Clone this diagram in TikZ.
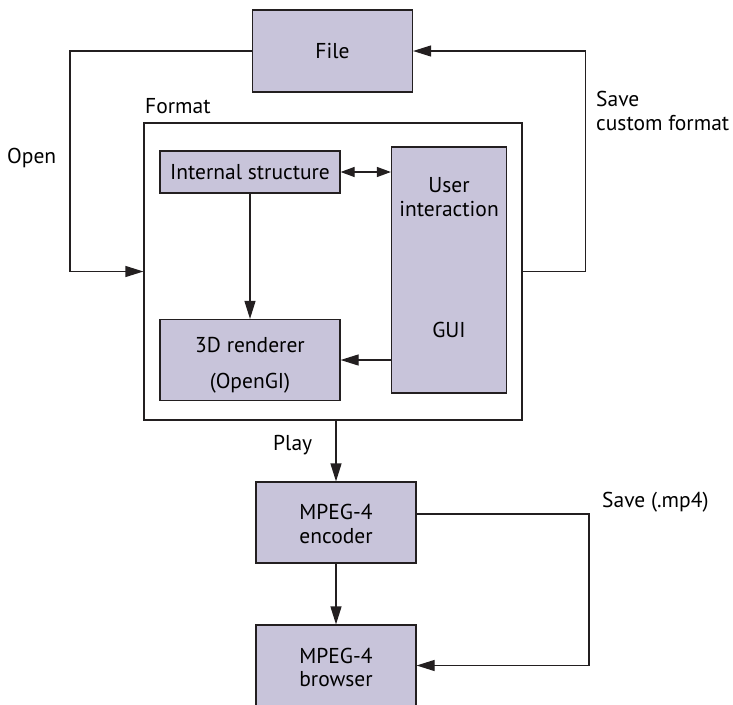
\documentclass[tikz,border=0pt]{standalone}
\usepackage{fontspec}
\setmainfont{PT Sans}
\usetikzlibrary{arrows.meta,calc}
\definecolor{boxfill}{RGB}{200,196,218}
\definecolor{linec}{RGB}{35,31,32}
\tikzset{
  box/.style={draw=linec, line width=1.2pt, fill=boxfill, inner sep=0pt, align=center, font=\fontsize{21.5}{24}\selectfont},
  frame/.style={draw=linec, line width=1.2pt, inner sep=0pt},
  lbl/.style={inner sep=0pt, font=\fontsize{21.5}{24}\selectfont, anchor=base west},
  txt/.style={inner sep=0pt, font=\fontsize{21.5}{24}\selectfont, anchor=base},
  conn/.style={draw=linec, line width=1.2pt},
  arr/.style={conn, -{Triangle[length=18pt,width=11pt]}},
  arrd/.style={conn, {Triangle[length=14pt,width=10pt]}-{Triangle[length=14pt,width=10pt]}}
}
\begin{document}
\begin{tikzpicture}[x=1pt,y=-1pt]
\clip (0,0) rectangle (733,704);
\fill[white] (0,0) rectangle (733,704);
\node[box, minimum width=160pt, minimum height=82pt] (file) at (332.5,51) {File};
\node[frame, minimum width=378pt, minimum height=297pt] (format) at (333,271.5) {};
\node[box, minimum width=180pt, minimum height=42pt] (internal) at (250,172) {Internal structure};
\node[box, minimum width=115pt, minimum height=246pt] (gui) at (449,270) {};
\node[txt] (gui1) at (449,192) {User};
\node[txt] (gui2) at (449,216) {interaction};
\node[txt] (gui3) at (449,337) {GUI};
\node[box, minimum width=180pt, minimum height=81pt] (renderer) at (250,360) {};
\node[txt] (ren1) at (250,352) {3D renderer};
\node[txt] (ren2) at (250,388) {(OpenGI)};
\node[box, minimum width=160pt, minimum height=81pt] (encoder) at (336,522.5) {};
\node[txt] (enc1) at (336,519) {MPEG-4};
\node[txt] (enc2) at (336,543) {encoder};
\node[box, minimum width=160pt, minimum height=81pt] (browser) at (336,665.5) {};
\node[txt] (bro1) at (336,663) {MPEG-4};
\node[txt] (bro2) at (336,686) {browser};

\node[lbl] (lformat) at (145,113) {Format};
\node[lbl] (lopen) at (7,163) {Open};
\node[lbl] (lsave1) at (596,106) {Save};
\node[lbl] (lsave2) at (596,130) {custom format};
\node[lbl] (lplay) at (273,450) {Play};
\node[lbl] (lmp4) at (602,507) {Save (.mp4)};

\coordinate (o1) at (70,51);
\coordinate (s1) at (585.5,271.5);
\coordinate (m1) at (589,514);
\draw[arr] (file.west) -- (o1) |- (format.west);
\draw[arr] (format.east) -- (s1) |- (file.east);
\draw[arrd] (internal.east) -- (internal.east -| gui.west);
\draw[arr] (internal.south) -- (renderer.north);
\draw[arr] (gui.west |- renderer.east) -- (renderer.east);
\draw[arr] (encoder.north |- format.south) -- (encoder.north);
\draw[arr] (encoder.south) -- (browser.north);
\draw[arr] (encoder.east |- m1) -- (m1) |- (browser.east);
\end{tikzpicture}
\end{document}
